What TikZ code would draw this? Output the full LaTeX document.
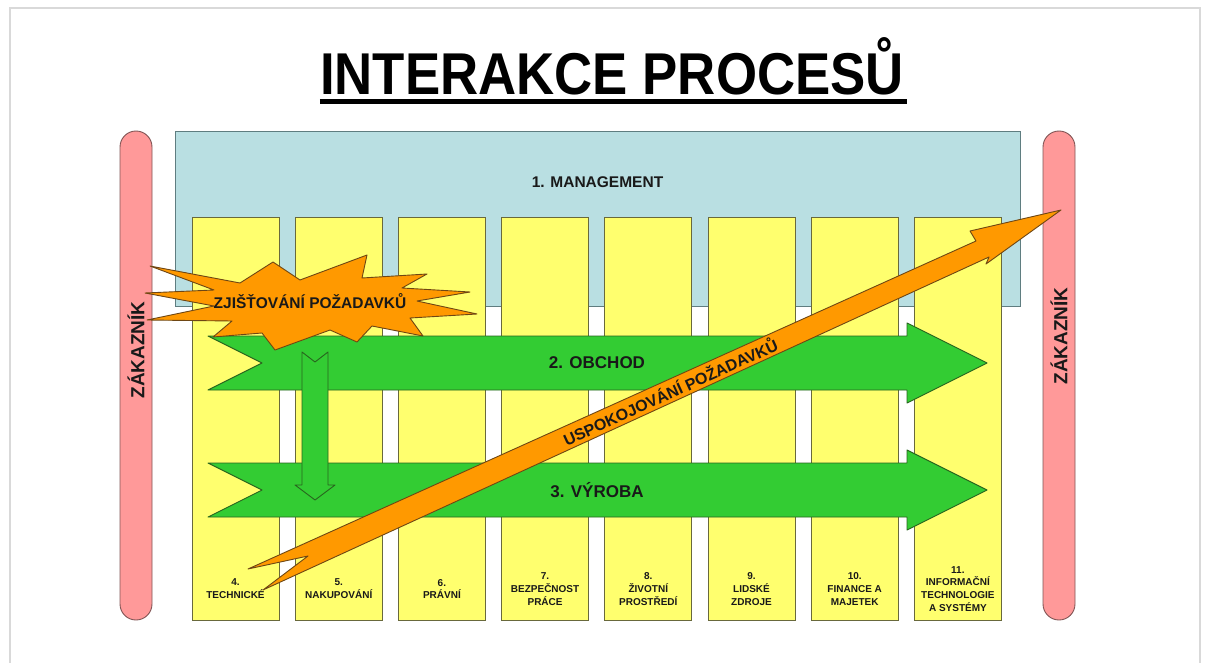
\documentclass[tikz,border=0pt]{standalone}
\usepackage{fontspec}
\setmainfont{Liberation Sans}
\usetikzlibrary{positioning, calc}
\definecolor{mgmtblue}{RGB}{185,223,226}
\definecolor{mgmtedge}{RGB}{95,125,128}
\definecolor{deptyellow}{RGB}{255,255,110}
\definecolor{deptedge}{RGB}{105,105,60}
\definecolor{flowgreen}{RGB}{51,204,51}
\definecolor{flowedge}{RGB}{40,100,30}
\definecolor{reqorange}{RGB}{255,153,0}
\definecolor{reqedge}{RGB}{110,70,20}
\definecolor{custpink}{RGB}{255,153,153}
\definecolor{custedge}{RGB}{130,85,85}
\tikzset{
    mgmt/.style={draw=mgmtedge, fill=mgmtblue, line width=0.9pt, outer sep=0pt},
    dept/.style={draw=deptedge, fill=deptyellow, line width=0.9pt, outer sep=0pt},
    cust/.style={draw=custedge, fill=custpink, line width=0.9pt, outer sep=0pt, rounded corners=16pt},
    flow/.style={draw=flowedge, fill=flowgreen, line width=0.9pt, line join=round},
    req/.style={draw=reqedge, fill=reqorange, line width=0.9pt, line join=round},
    lbl/.style={font=\bfseries\fontsize{#1}{#1}\selectfont, text=black!90, inner sep=0pt},
    lbl/.default=16,
    deptlbl/.style={align=center, text=black!90, inner sep=0pt, font=\bfseries\fontsize{10}{12.8}\selectfont}
}

\begin{document}
\begin{tikzpicture}[x=1pt, y=-1pt]
        \useasboundingbox (0,0) rectangle (1205,663);
        %Slide
        \fill[white] (0,0) rectangle (1205,663);
        \draw[black!15, line width=1.5pt] (10,670) -- (10,8) -- (1200,8) -- (1200,670);
        %Title
        \node[font=\bfseries\fontsize{59}{59}\selectfont, xscale=0.895, inner sep=0pt, anchor=base] (title) at (612,95) {INTERAKCE PROCESŮ};
        \draw[line width=5pt] ([yshift=-7pt]title.base west) -- ([yshift=-7pt, xshift=3pt]title.base east);
        %Frames
        \node[mgmt, minimum width=845pt, minimum height=175pt, anchor=north west] (mgmt) at (175,131) {};
        \node[lbl=15.5] (mgmtL) at ([yshift=-51pt]mgmt.north) {1. MANAGEMENT};
        \foreach \i/\txt in {1/{4.\\TECHNICKÉ}, 2/{5.\\NAKUPOVÁNÍ}, 3/{6.\\PRÁVNÍ},
                4/{7.\\BEZPEČNOST\\PRÁCE}, 5/{8.\\ŽIVOTNÍ\\PROSTŘEDÍ}, 6/{9.\\LIDSKÉ\\ZDROJE},
                7/{10.\\FINANCE A\\MAJETEK}, 8/{11.\\INFORMAČNÍ\\TECHNOLOGIE\\A SYSTÉMY}}{
            \node[dept, minimum width=87pt, minimum height=403pt, anchor=north west] (dept\i) at ({192+(\i-1)*103.2},217) {};
            \node[deptlbl] (deptL\i) at (dept\i.center |- 0,589) {\txt};
        }
        \node[cust, minimum width=32pt, minimum height=489pt, anchor=north west] (custL) at (120,131) {};
        \node[cust, minimum width=32pt, minimum height=489pt, anchor=north west] (custR) at (1043,131) {};
        \node[lbl=19, rotate=90] (custLT) at (custL.center |- 0,350) {ZÁKAZNÍK};
        \node[lbl=19, rotate=90] (custRT) at (custR.center |- 0,336) {ZÁKAZNÍK};
        %Green flows
        \foreach \y/\name/\txt in {363/obchod/{2. OBCHOD}, 490/vyroba/{3. VÝROBA}}{
            \draw[flow] (208,\y-27) -- (907,\y-27) -- (907,\y-40) -- (987,\y) -- (907,\y+40)
                -- (907,\y+27) -- (208,\y+27) -- (262,\y) -- cycle;
            \node[lbl=17] (\name) at (597,\y) {\txt};
        }
        \draw[flow] (302,352) -- (315,362) -- (328,352) -- (328,485) -- (335,485) -- (315,500)
            -- (295,485) -- (302,485) -- cycle;
        %Requirements
        \draw[req] (248,569) -- (308,556) -- (263,590) -- (989,257) -- (986,264) -- (1061,210)
            -- (970,231) -- (976,241) -- cycle;
        \node[lbl=16, rotate=24.5] (spokoj) at (670,391) {USPOKOJOVÁNÍ POŽADAVKŮ};
        \draw[req] (150,266) -- (240,283) -- (273,262) -- (300,280) -- (367,255) -- (362,278)
            -- (427,274) -- (402,288) -- (470,292) -- (417,301) -- (477,314) -- (410,318)
            -- (423,336) -- (372,326) -- (357,342) -- (330,330) -- (275,350) -- (262,333)
            -- (213,337) -- (232,321) -- (147,320) -- (214,306) -- (145,293) -- (214,290) -- cycle;
        \node[lbl=15.5] (zjist) at (310,301) {ZJIŠŤOVÁNÍ POŽADAVKŮ};
\end{tikzpicture}
\end{document}
